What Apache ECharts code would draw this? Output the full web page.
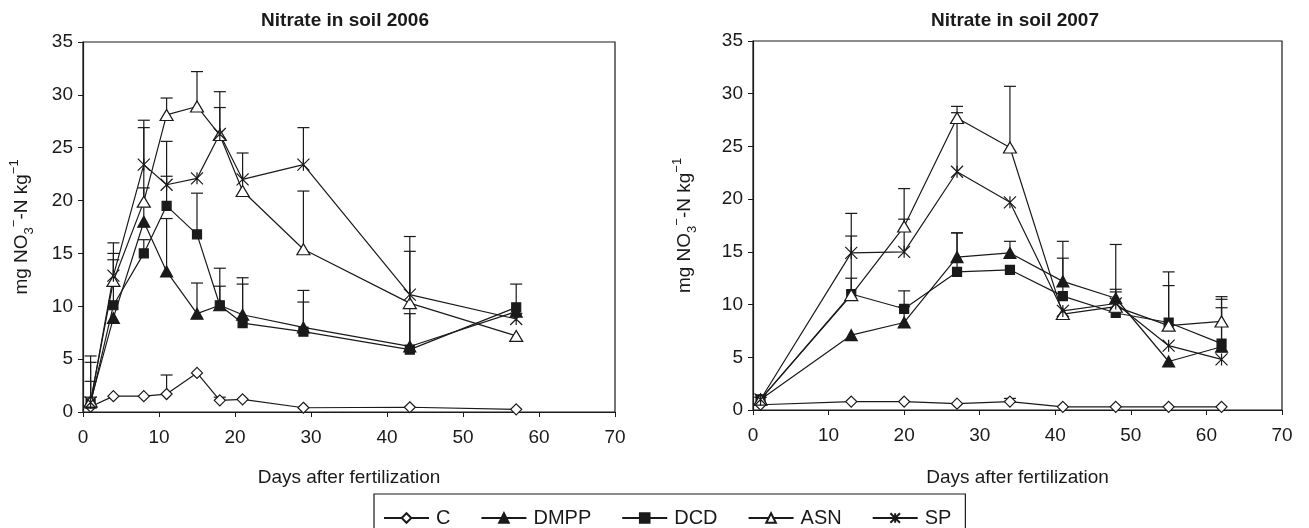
<!DOCTYPE html>
<html>
<head>
<meta charset="utf-8">
<script src="https://cdn.jsdelivr.net/npm/echarts@6/dist/echarts.min.js"></script>
<style>
  html, body { margin: 0; padding: 0; background: #fff; }
  #main { width: 1309px; height: 528px; }
</style>
</head>
<body>
<div id="main"></div>
<script>
// 2006 sampling days and means
var days2006 = [1, 4, 8, 11, 15, 18, 21, 29, 43, 57]
var c2006    = [0.5, 1.5, 1.5, 1.7, 3.7, 1.1, 1.2, 0.4, 0.45, 0.25]
var dmpp2006 = [1.0, 8.9, 18.0, 13.3, 9.3, 10.1, 9.2, 8.0, 6.2, 9.5]
var dcd2006  = [0.8, 10.1, 15.0, 19.5, 16.8, 10.1, 8.4, 7.6, 5.9, 9.9]
var asn2006  = [1.0, 12.4, 19.9, 28.1, 28.9, 26.2, 20.9, 15.4, 10.3, 7.2]
var sp2006   = [0.9, 12.9, 23.4, 21.5, 22.1, 26.3, 22.0, 23.4, 11.1, 8.8]
// 2006 error bars (upper only)
var cErr2006    = [0, 0, 0, 1.8, 0, 0.3, 0, 0, 0, 0]
var dmppErr2006 = [0.4, 0, 3.2, 5.0, 2.9, 1.8, 3.5, 3.5, 9.0, 0]
var dcdErr2006  = [2.1, 4.3, 1.3, 2.8, 3.9, 3.5, 3.7, 2.8, 3.4, 2.2]
var asnErr2006  = [4.3, 2.6, 7.0, 1.6, 3.3, 4.1, 0, 5.5, 0, 0]
var spErr2006   = [3.8, 3.1, 4.2, 4.1, 0, 2.5, 2.5, 3.5, 5.5, 0]

// 2007 sampling days and means
var days2007 = [1, 13, 20, 27, 34, 41, 48, 55, 62]
var c2007    = [0.5, 0.8, 0.8, 0.6, 0.8, 0.3, 0.3, 0.3, 0.3]
var dmpp2007 = [1.0, 7.1, 8.3, 14.5, 14.9, 12.2, 10.6, 4.6, 6.0]
var dcd2007  = [1.0, 11.0, 9.6, 13.1, 13.3, 10.8, 9.2, 8.3, 6.3]
var asn2007  = [1.0, 10.9, 17.4, 27.7, 24.9, 9.1, 9.8, 8.0, 8.4]
var sp2007   = [1.0, 14.9, 15.0, 22.6, 19.7, 9.4, 10.1, 6.1, 4.8]
// 2007 error bars (upper only)
var cErr2007    = [0, 0, 0, 0, 0.3, 0, 0, 0, 0]
var dmppErr2007 = [0.2, 0, 1.5, 2.3, 1.1, 3.8, 0.85, 0, 4.5]
var dcdErr2007  = [0, 1.5, 1.7, 3.7, 0, 3.6, 0, 4.8, 3.4]
var asnErr2007  = [0, 5.6, 3.6, 1.1, 5.8, 0, 1.4, 3.8, 2.35]
var spErr2007   = [0.2, 3.75, 3.1, 5.6, 0, 0, 5.6, 0, 0]

var names = ['C', 'DMPP', 'DCD', 'ASN', 'SP']
var titles = ['Nitrate in soil 2006', 'Nitrate in soil 2007']
var xTitle = 'Days after fertilization'

var FONT = '"Liberation Sans", Arial, sans-serif'
var INK = '#1a1a1a'
var starPath = 'path://M0,0L10,10M10,0L0,10M5,0L5,10'

var markers = {
  C:    { symbol: 'diamond', size: [11, 11], fill: '#fff' },
  DMPP: { symbol: 'triangle', size: [12, 11], fill: INK },
  DCD:  { symbol: 'rect', size: [9, 9], fill: INK },
  ASN:  { symbol: 'triangle', size: [13, 11], fill: '#fff' },
  SP:   { symbol: starPath, size: [12, 12], fill: 'none' }
}

var chart = echarts.init(document.getElementById('main'))

var pairs = function (xs, ys) {
  return xs.map(function (x, i) { return [x, ys[i]] })
}

var errPoints = function (xs, ys, es) {
  var out = []
  xs.forEach(function (x, i) {
    if (es[i] > 0) out.push([x, ys[i], es[i]])
  })
  return out
}

var renderErr = function (params, api) {
  var base = api.coord([api.value(0), api.value(1)])
  var top = api.coord([api.value(0), api.value(1) + api.value(2)])
  var st = { stroke: INK, lineWidth: 1.2 }
  return {
    type: 'group',
    children: [
      { type: 'line', shape: { x1: base[0], y1: base[1], x2: top[0], y2: top[1] }, style: st },
      { type: 'line', shape: { x1: top[0] - 6, y1: top[1], x2: top[0] + 6, y2: top[1] }, style: st }
    ]
  }
}

var lineSeries = function (name, idx, xs, ys) {
  var m = markers[name]
  return {
    name: name,
    type: 'line',
    xAxisIndex: idx,
    yAxisIndex: idx,
    data: pairs(xs, ys),
    symbol: m.symbol,
    symbolSize: m.size,
    showAllSymbol: true,
    lineStyle: { color: INK, width: 1.2 },
    itemStyle: { color: m.fill, borderColor: INK, borderWidth: 1.2 },
    z: 3,
    animation: false
  }
}

var errSeries = function (name, idx, xs, ys, es) {
  return {
    name: name + ' err',
    type: 'custom',
    xAxisIndex: idx,
    yAxisIndex: idx,
    renderItem: renderErr,
    encode: { x: 0, y: 1 },
    data: errPoints(xs, ys, es),
    z: 2,
    silent: true,
    animation: false
  }
}

var sets = [
  { idx: 0, xs: days2006, ys: [c2006, dmpp2006, dcd2006, asn2006, sp2006],
    es: [cErr2006, dmppErr2006, dcdErr2006, asnErr2006, spErr2006] },
  { idx: 1, xs: days2007, ys: [c2007, dmpp2007, dcd2007, asn2007, sp2007],
    es: [cErr2007, dmppErr2007, dcdErr2007, asnErr2007, spErr2007] }
]

var series = []
sets.forEach(function (s) {
  names.forEach(function (n, k) {
    series.push(errSeries(n, s.idx, s.xs, s.ys[k], s.es[k]))
  })
  names.forEach(function (n, k) {
    series.push(lineSeries(n, s.idx, s.xs, s.ys[k]))
  })
})

var yName = 'mg NO{sub|3}{sup|−}-N kg{sup|−1}'
var yNameStyle = {
  fontFamily: FONT, fontSize: 19, color: INK, lineHeight: 28,
  rich: {
    sub: { fontFamily: FONT, fontSize: 13, color: INK, verticalAlign: 'bottom', lineHeight: 13 },
    sup: { fontFamily: FONT, fontSize: 13, color: INK, verticalAlign: 'top', lineHeight: 13 }
  }
}

var xAxisCfg = function (idx, gap) {
  return {
    type: 'value', gridIndex: idx, min: 0, max: 70, interval: 10,
    name: xTitle, nameLocation: 'middle', nameGap: gap,
    nameTextStyle: { fontFamily: FONT, fontSize: 19, color: INK },
    axisLine: { onZero: false, lineStyle: { color: INK, width: 1.2 } },
    axisTick: { inside: false, length: 5, lineStyle: { color: INK } },
    axisLabel: { fontFamily: FONT, fontSize: 19, color: INK, margin: 16 },
    splitLine: { show: false }
  }
}

var yAxisCfg = function (idx, gap) {
  return {
    type: 'value', gridIndex: idx, min: 0, max: 35, interval: 5,
    name: yName, nameLocation: 'middle', nameGap: gap, nameRotate: 90,
    nameTextStyle: yNameStyle,
    axisLine: { lineStyle: { color: INK, width: 1.2 } },
    axisTick: { inside: false, length: 5, lineStyle: { color: INK } },
    axisLabel: { fontFamily: FONT, fontSize: 19, color: INK, margin: 10 },
    splitLine: { show: false }
  }
}

chart.setOption({
  backgroundColor: '#fff',
  animation: false,
  title: [
    { text: titles[0], left: 345, top: 11, textAlign: 'center', padding: 0,
      textStyle: { fontFamily: FONT, fontSize: 19, fontWeight: 'bold', color: INK } },
    { text: titles[1], left: 1015, top: 11, textAlign: 'center', padding: 0,
      textStyle: { fontFamily: FONT, fontSize: 19, fontWeight: 'bold', color: INK } }
  ],
  grid: [
    { left: 83, right: 694, top: 42, bottom: 116, show: true, borderColor: INK, borderWidth: 1.2, backgroundColor: 'transparent' },
    { left: 753, right: 27, top: 41, bottom: 118, show: true, borderColor: INK, borderWidth: 1.2, backgroundColor: 'transparent' }
  ],
  xAxis: [xAxisCfg(0, 56), xAxisCfg(1, 58)],
  yAxis: [yAxisCfg(0, 47), yAxisCfg(1, 54)],
  legend: {
    data: names,
    left: 374,
    top: 494,
    orient: 'horizontal',
    itemWidth: 45,
    itemHeight: 12,
    itemGap: 30,
    padding: [14, 14, 14, 9],
    borderColor: INK,
    borderWidth: 1.2,
    textStyle: { fontFamily: FONT, fontSize: 20, color: INK, padding: [0, 0, 0, 2] },
    selectedMode: false
  },
  series: series
})
</script>
</body>
</html>
